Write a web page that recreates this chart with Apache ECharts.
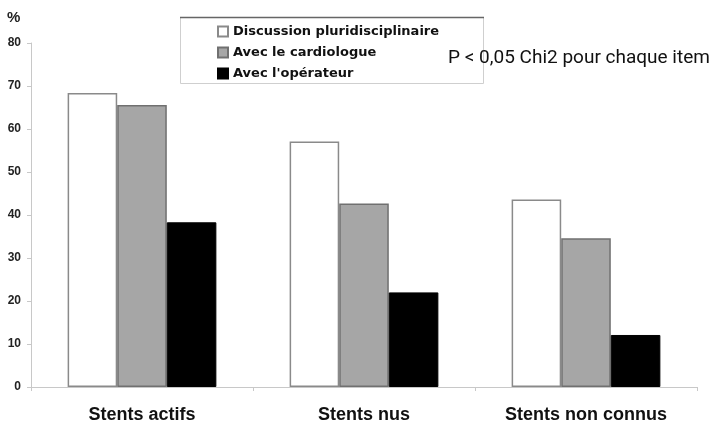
<!DOCTYPE html>
<html><head><meta charset="utf-8">
<script src="https://cdn.jsdelivr.net/npm/echarts@6/dist/echarts.min.js"></script>
<style>html,body{margin:0;padding:0;background:#fff}#c{width:716px;height:424px}</style>
</head><body><div id="c"></div>
<script>
const categories = ['Stents actifs', 'Stents nus', 'Stents non connus'];
const seriesNames = ['Discussion pluridisciplinaire', 'Avec le cardiologue', "Avec l'opérateur"];
const discussion = [68.4, 57.1, 43.6];
const cardiologue = [65.6, 42.7, 34.6];
const operateur = [38.3, 22.0, 12.1];
const yTicks = [0, 10, 20, 30, 40, 50, 60, 70, 80];

const chart = echarts.init(document.getElementById('c'));
const styles = [
  {color: '#ffffff', borderColor: '#8a8a8a', borderWidth: 1.5},
  {color: '#a6a6a6', borderColor: '#707070', borderWidth: 1.5},
  {color: '#000000', borderColor: '#000000', borderWidth: 1}
];
const datas = [discussion, cardiologue, operateur];
chart.setOption({
  animation: false,
  grid: {left: 31, right: 19, top: 43, bottom: 36},
  legend: {
    orient: 'vertical', left: 212, top: 20, itemWidth: 10, itemHeight: 10, itemGap: 8, padding: 5,
    data: seriesNames,
    textStyle: {fontFamily: 'DejaVu Sans', fontWeight: 'bold', fontSize: 13, color: '#111'},
    icon: 'rect'
  },
  graphic: [
    {type: 'rect', shape: {x: 180.5, y: 17.5, width: 303, height: 66}, style: {fill: 'none', stroke: '#cfcfcf', lineWidth: 1}, z: 0},
    {type: 'line', shape: {x1: 180, y1: 17.5, x2: 484, y2: 17.5}, style: {stroke: '#666', lineWidth: 1.5}, z: 1},
    {type: 'text', left: 7, top: 10, style: {text: '%', font: 'bold 15px "Liberation Sans", Arial', fill: '#222'}},
    {type: 'text', left: 448, top: 49, style: {text: 'P < 0,05 Chi2 pour chaque item', font: '19px Roboto', fill: '#111'}}
  ],
  xAxis: {
    type: 'category', data: categories,
    axisLine: {lineStyle: {color: '#c8c8c8', width: 1}},
    axisTick: {show: true, length: 4, lineStyle: {color: '#c8c8c8'}},
    axisLabel: {fontFamily: 'Liberation Sans, Arial', fontWeight: 'bold', fontSize: 18, color: '#111', margin: 19}
  },
  yAxis: {
    type: 'value', min: 0, max: 80, interval: 10,
    axisLine: {show: true, lineStyle: {color: '#c8c8c8', width: 1}},
    axisTick: {show: true, length: 4, lineStyle: {color: '#c8c8c8'}},
    splitLine: {show: false},
    axisLabel: {fontFamily: 'Liberation Sans, Arial', fontWeight: 'bold', fontSize: 12, color: '#222', margin: 10,
      formatter: v => yTicks.includes(v) ? String(v) : ''}
  },
  series: seriesNames.map((n, i) => ({
    name: n, type: 'bar', data: datas[i], barGap: '0%', barCategoryGap: '33%',
    itemStyle: styles[i]
  }))
});
</script></body></html>
